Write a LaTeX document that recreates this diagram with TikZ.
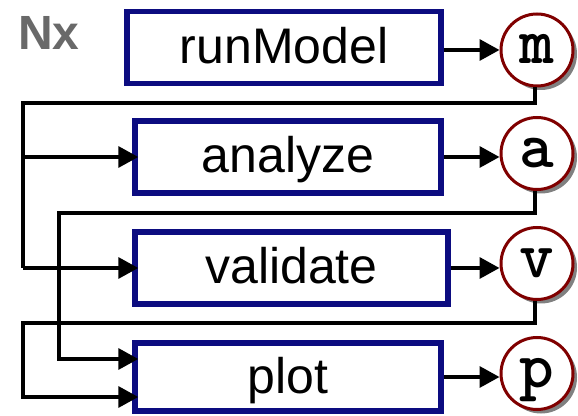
\documentclass[tikz,border=0pt]{standalone}
\usepackage{fontspec}
\setmainfont{Liberation Sans}
\usetikzlibrary{arrows.meta,shadows,calc}
\definecolor{boxblue}{RGB}{12,12,128}
\definecolor{ringred}{RGB}{128,0,0}
\definecolor{labelgray}{RGB}{105,105,105}

\begin{document}
\begin{tikzpicture}[x=1pt,y=1pt,
  taskbox/.style={draw=boxblue, line width=5.5pt, fill=white, minimum height=72pt,
    inner sep=0pt, text height=35pt, text depth=3pt,
    font=\fontsize{50}{52}\selectfont},
  outring/.style={circle, draw=ringred, line width=3pt, fill=white, minimum size=72pt,
    inner sep=0pt, text height=28pt, text depth=0pt,
    drop shadow={shadow xshift=4pt, shadow yshift=-4pt, fill=gray, opacity=1},
    font=\ttfamily\bfseries\fontsize{66}{66}\selectfont},
  flow/.style={line width=3.5pt, -{Triangle[length=20pt,width=21pt]}},
  wire/.style={line width=3.5pt},
]
\useasboundingbox (0,0) rectangle (578,415);

% group label
\node[font=\bfseries\fontsize{48}{48}\selectfont, text=labelgray] (nx) at (49,382) {Nx};

% task boxes
\node[taskbox, minimum width=314pt] (rm) at (284,367.5) {runModel};
\node[taskbox, minimum width=306pt] (an) at (288,258) {analyze};
\node[taskbox, minimum width=313pt] (va) at (291.5,147) {validate};
\node[taskbox, minimum width=306pt, minimum height=68pt] (pl) at (288,38) {plot};

% outputs
\node[outring] (m) at (537,365) {m};
\node[outring] (a) at (537,261.5) {a};
\node[outring] (v) at (537,151.5) {v};
\node[outring] (p) at (537,41.5) {p};

% task -> output
\draw[flow] (m.west -| rm.east) -- (m.west);
\draw[flow] (an.east) -- (an.east -| a.west);
\draw[flow] (va.east) -- (va.east -| v.west);
\draw[flow] (pl.east) -- (pl.east -| p.west);

% m feeds analyze and validate
\coordinate (j1) at (23,312);
\draw[wire] ([xshift=-2pt]m.south) |- (j1) -- (j1 |- va.west);
\draw[flow, shorten >=-6pt] (j1 |- an.west) -- (an.west);
\draw[flow, shorten >=-6pt] (j1 |- va.west) -- (va.west);

% a feeds plot
\coordinate (j2) at (59,202);
\draw[flow, shorten >=-6pt] ([xshift=-2pt]a.south) |- (j2) |- ([yshift=18pt]pl.west);

% v feeds plot
\coordinate (j3) at (23,92);
\draw[flow, shorten >=-6pt] ([xshift=-2pt]v.south) |- (j3) |- ([yshift=-20pt]pl.west);
\end{tikzpicture}
\end{document}
